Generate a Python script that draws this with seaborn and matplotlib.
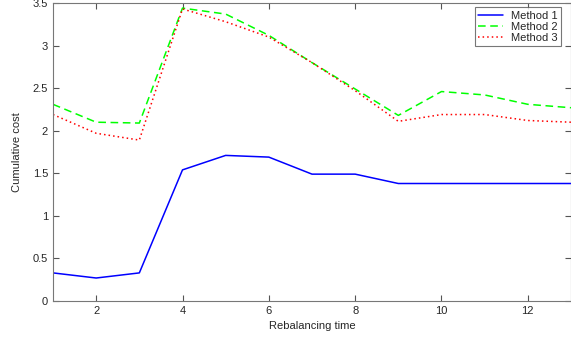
import pandas as pd
import matplotlib
matplotlib.use("Agg")
import matplotlib.pyplot as plt
import seaborn as sns

# values
times = list(range(1, 14))
method1 = [0.33, 0.27, 0.33, 1.54, 1.71, 1.69, 1.49, 1.49, 1.38, 1.38, 1.38, 1.38, 1.38]
method2 = [2.31, 2.10, 2.09, 3.44, 3.37, 3.12, 2.80, 2.49, 2.18, 2.46, 2.42, 2.31, 2.27]
method3 = [2.19, 1.97, 1.89, 3.43, 3.28, 3.10, 2.80, 2.47, 2.11, 2.19, 2.19, 2.12, 2.10]

series = {"Method 1": method1, "Method 2": method2, "Method 3": method3}
colors = {"Method 1": "#0000ff", "Method 2": "#00ff00", "Method 3": "#ff0000"}
dashes = {"Method 1": "", "Method 2": (5, 3), "Method 3": (1, 2)}

df = pd.DataFrame({
    "time": times * 3,
    "cost": method1 + method2 + method3,
    "method": [m for m in series for _ in times],
})

sns.set_style("ticks")
plt.rcParams["font.family"] = ["Liberation Sans", "DejaVu Sans"]

fig = plt.figure(figsize=(5.71, 3.38), dpi=100)
ax = fig.add_axes([53 / 571, 37 / 338, 518 / 571, 298 / 338])

sns.lineplot(data=df, x="time", y="cost", hue="method", style="method",
             palette=colors, dashes=dashes, linewidth=1.1, ax=ax)

ax.set_xlim(1, 13)
ax.set_ylim(0, 3.5)
ax.set_xticks([2, 4, 6, 8, 10, 12])
ax.set_yticks([0, 0.5, 1, 1.5, 2, 2.5, 3, 3.5])
ax.set_yticklabels(["0", "0.5", "1", "1.5", "2", "2.5", "3", "3.5"])
ax.tick_params(direction="in", top=True, right=True, labelsize=8, length=4,
               color="#555555", width=0.8)
for s in ax.spines.values():
    s.set_color("#777777")
    s.set_linewidth(0.8)

ax.set_xlabel("Rebalancing time", fontsize=8)
ax.set_ylabel("Cumulative cost", fontsize=8, labelpad=8)

leg = ax.legend(loc="upper right", fontsize=8, frameon=True, fancybox=False,
                borderaxespad=0.4, handlelength=2.2, labelspacing=0.1,
                borderpad=0.3, bbox_to_anchor=(0.99, 1.0))
leg.get_frame().set_edgecolor("#555555")
leg.get_frame().set_linewidth(0.8)

fig.savefig("out.png", dpi=100)
